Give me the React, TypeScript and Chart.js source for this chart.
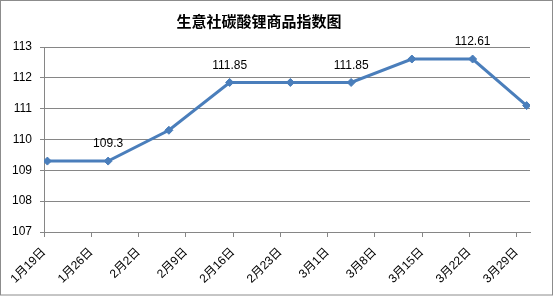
import React, { useEffect, useRef } from "react";
import { Chart, registerables } from "chart.js";

Chart.register(...registerables);

const titleText = "生意社碳酸锂商品指数图";
// day offsets from 1月19日 for each observation
const dayOffsets = [0, 9, 18, 27, 36, 45, 54, 63, 71];
const values = [109.3, 109.3, 110.3, 111.85, 111.85, 111.85, 112.61, 112.61, 111.1];
const labeledIndices = [1, 3, 5, 7];
const tickLabels = ["1月19日", "1月26日", "2月2日", "2月9日", "2月16日", "2月23日", "3月1日", "3月8日", "3月15日", "3月22日", "3月29日"];
const tickStepDays = 7;

const LINE_COLOR = "#4A7EBB";
const GRID_COLOR = "#868686";
const FONT = "'Liberation Sans', 'Noto Sans CJK SC', sans-serif";

export default function App() {
  const ref = useRef<HTMLCanvasElement>(null);

  useEffect(() => {
    if (!ref.current) return;
    const framePlugin = {
      id: "frame",
      beforeDraw(chart: any) {
        const ctx = chart.ctx;
        ctx.save();
        ctx.fillStyle = "#ffffff";
        ctx.fillRect(0, 0, chart.width, chart.height);
        ctx.restore();
      },
      afterDraw(chart: any) {
        const ctx = chart.ctx;
        ctx.save();
        ctx.strokeStyle = "#8c8c8c";
        ctx.lineWidth = 1;
        ctx.strokeRect(0.5, 0.5, 552, 294.5);
        ctx.fillStyle = "#000";
        ctx.font = "bold 15px 'Noto Sans CJK SC', sans-serif";
        ctx.textAlign = "center";
        ctx.textBaseline = "middle";
        ctx.fillText(titleText, 259, 21);
        ctx.restore();
      },
      afterDatasetsDraw(chart: any) {
        const ctx = chart.ctx;
        const meta = chart.getDatasetMeta(0);
        ctx.save();
        ctx.fillStyle = "#000";
        ctx.font = "12px " + FONT;
        ctx.textAlign = "center";
        ctx.textBaseline = "middle";
        labeledIndices.forEach((i) => {
          const el = meta.data[i];
          ctx.fillText(String(values[i]), el.x, el.y - 17);
        });
        ctx.restore();
      },
    };

    const chart = new Chart(ref.current, {
      type: "line",
      data: {
        datasets: [
          {
            data: dayOffsets.map((d, i) => ({ x: d + 0.5, y: values[i] })),
            borderColor: LINE_COLOR,
            backgroundColor: LINE_COLOR,
            borderWidth: 3,
            pointStyle: "rectRot",
            pointRadius: 4,
            pointBorderWidth: 1,
            tension: 0,
          },
        ],
      },
      options: {
        responsive: false,
        animation: false,
        layout: { padding: { top: 47, right: 25, left: 0, bottom: 0 } },
        plugins: {
          legend: { display: false },
          title: { display: false },
          tooltip: { enabled: false },
        },
        scales: {
          x: {
            type: "linear",
            min: 0,
            max: 72,
            afterBuildTicks: (scale: any) => {
              scale.ticks = tickLabels.map((_, i) => ({ value: i * tickStepDays }));
            },
            afterFit: (scale: any) => {
              scale.height = 64;
            },
            grid: {
              drawOnChartArea: false,
              drawTicks: true,
              tickLength: 5,
              color: GRID_COLOR,
            },
            border: { color: GRID_COLOR, width: 1 },
            ticks: {
              autoSkip: false,
              minRotation: 45,
              maxRotation: 45,
              padding: 8,
              color: "#000",
              font: { family: FONT, size: 12 },
              callback: (_v: any, i: number) => tickLabels[i],
            },
          },
          y: {
            min: 107,
            max: 113,
            afterFit: (scale: any) => {
              scale.width = 44;
            },
            grid: {
              color: GRID_COLOR,
              tickLength: 4,
            },
            border: { color: GRID_COLOR, width: 1 },
            ticks: {
              stepSize: 1,
              padding: 8,
              color: "#000",
              font: { family: FONT, size: 12 },
            },
          },
        },
      },
      plugins: [framePlugin],
    });
    return () => chart.destroy();
  }, []);

  return (
    <canvas
      ref={ref}
      width={555}
      height={296}
      style={{ position: "fixed", left: 0, top: 0, width: 555, height: 296, display: "block" }}
    />
  );
}
